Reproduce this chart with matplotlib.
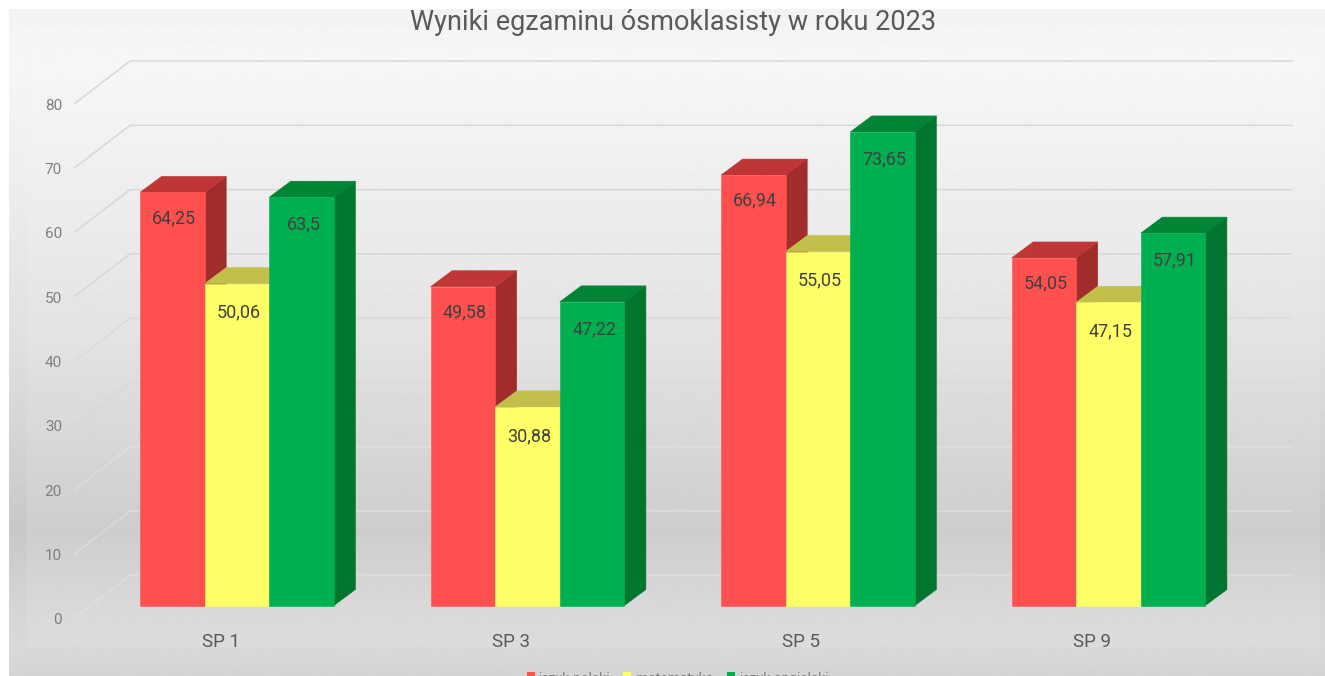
"""Wyniki egzaminu ósmoklasisty 2023 : słupki "3D" rysowane jako poligony."""

import matplotlib
matplotlib.use("Agg")
import matplotlib.pyplot as plt
import numpy as np
from matplotlib.patches import Polygon, Rectangle

schools = ["SP 1", "SP 3", "SP 5", "SP 9"]
polski = [64.25, 49.58, 66.94, 54.05]
matematyka = [50.06, 30.88, 55.05, 47.15]
angielski = [63.5, 47.22, 73.65, 57.91]
series_names = ["język polski", "matematyka", "język angielski"]
y_ticks = [0, 10, 20, 30, 40, 50, 60, 70, 80]

# front, top, side
RED = ("#ff5050", "#bf3636", "#a02c2c")
YELLOW = ("#ffff66", "#c2c04a", "#a8a63c")
GREEN = ("#00b050", "#008436", "#00752f")

W, H = 1325, 676
PX_GROUP = 290.5   # px between groups
PX_UNIT = 6.43     # px per point on y
X0_PX = 237.0      # px of the first group centre
Y0_PX = 605.5      # px of value 0 at bar front

BAR_W = 64.6 / PX_GROUP
DX = 21.5 / PX_GROUP
DY = 16 / PX_UNIT


def to_x(px):
    return (px - X0_PX) / PX_GROUP


def to_y(px):
    return (Y0_PX - px) / PX_UNIT


fig = plt.figure(figsize=(W / 100, H / 100), dpi=100, facecolor="white")
ax = fig.add_axes([0, 0, 1, 1])
ax.axis("off")
plt.rcParams["font.family"] = ["Roboto", "DejaVu Sans"]

# tło : gradient szary
rows = np.arange(10, H)
grad = np.interp(rows, [10, 60, 200, 330, 440, 530, 600, 645, 676],
                 [243, 246, 236, 225, 212, 200, 212, 217, 212])
ax.imshow(grad[:, None], cmap="gray", vmin=0, vmax=255, aspect="auto", zorder=0,
          extent=(to_x(9), to_x(W), to_y(H), to_y(10)), interpolation="bilinear")
ax.set_xlim(to_x(0), to_x(W))
ax.set_ylim(to_y(H), to_y(0))

# jaśniejszy panel wykresu
ax.add_patch(Rectangle((to_x(27), to_y(647)), to_x(1320) - to_x(27), to_y(58) - to_y(647),
                       fc="white", ec="none", alpha=0.1, zorder=0.5))

# siatka na ścianie
wall_front = to_x(75)
wall_back = to_x(130)
wall_right = to_x(1292)
for v in y_ticks:
    if v >= 50:
        line_color, line_alpha = "#d4d4d4", 0.9
    elif v >= 30:
        line_color, line_alpha = "#d8d8d8", 0.7
    else:
        line_color, line_alpha = "#e6e6e6", 0.55
    ax.plot([wall_front, wall_back, wall_right], [v - 1.9, v + 4.68, v + 4.68],
            color=line_color, alpha=line_alpha, lw=1.1, zorder=1, solid_joinstyle="miter")
    ax.text(to_x(62), v - 2.3, str(v), ha="right", va="center", fontsize=11,
            color="#7f7f7f", zorder=5)


def draw_bar(x, value, colors, z, label_px):
    front, top, side = colors
    ax.add_patch(Polygon([(x + BAR_W, 0), (x + BAR_W + DX, DY),
                          (x + BAR_W + DX, value + DY), (x + BAR_W, value)],
                         closed=True, fc=side, ec=side, lw=0.4, zorder=z))
    ax.add_patch(Polygon([(x, value), (x + DX, value + DY),
                          (x + BAR_W + DX, value + DY), (x + BAR_W, value)],
                         closed=True, fc=top, ec=top, lw=0.4, zorder=z))
    ax.add_patch(Rectangle((x, 0), BAR_W, value, fc=front, ec=front, lw=0.4, zorder=z + 0.5))
    label = str(value).replace(".", ",")
    ax.text(x + BAR_W / 2 + 2 / PX_GROUP, value - label_px / PX_UNIT, label, ha="center",
            va="center", fontsize=13, color="#404040", zorder=8)


for i, name in enumerate(schools):
    for j, (vals, colors, label_px) in enumerate(zip([polski, matematyka, angielski],
                                                     [RED, YELLOW, GREEN],
                                                     [25.5, 29, 27])):
        draw_bar(i + (j - 1.5) * BAR_W, vals[i], colors, 3 + i + j * 0.1, label_px)
    ax.text(i - 16.5 / PX_GROUP, to_y(642), name, ha="center", va="center", fontsize=13.5,
            color="#595959", zorder=8)

ax.text(to_x(673), to_y(23), "Wyniki egzaminu ósmoklasisty w roku 2023", ha="center",
        va="center", fontsize=19.5, color="#595959", zorder=8)

# legenda ucięta dolną krawędzią obrazu, jak w oryginale
for name, colors, box_x, text_x in zip(series_names, [RED, YELLOW, GREEN],
                                       [527, 623, 727], [538, 636, 739]):
    ax.add_patch(Rectangle((to_x(box_x), to_y(680)), 8 / PX_GROUP, 8 / PX_UNIT,
                           fc=colors[0], ec="none", zorder=6))
    ax.text(to_x(text_x), to_y(679), name, ha="left", va="center", fontsize=10,
            color="#7f7f7f", zorder=6)

fig.savefig("out.png", dpi=100, facecolor="white")
